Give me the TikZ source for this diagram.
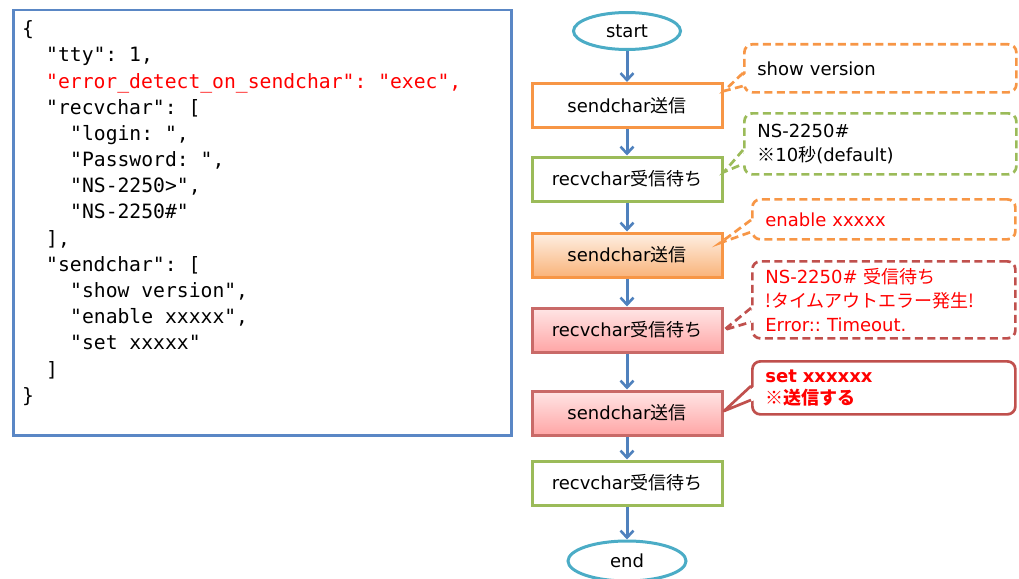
\documentclass[tikz,border=0pt]{standalone}
\usepackage{fontspec}
\setmainfont{DejaVu Sans}
\newfontfamily\jp{Noto Sans CJK JP}
\newfontfamily\codefont{DejaVu Sans Mono}
\usetikzlibrary{shapes.geometric,arrows.meta}
\definecolor{flowblue}{HTML}{4F81BD}
\definecolor{ellblue}{HTML}{4BACC6}
\definecolor{orng}{HTML}{F79646}
\definecolor{grn}{HTML}{9BBB59}
\definecolor{dred}{HTML}{C0504D}
\definecolor{codeblue}{HTML}{5A87C5}
\definecolor{txtred}{HTML}{FF0000}
\tikzset{
  codeline/.style={anchor=base west, inner sep=0pt, font=\codefont\frenchspacing\fontsize{19.7}{24}\selectfont},
  proc/.style={draw, line width=3pt, minimum width=190pt, minimum height=44pt, inner sep=0pt,
    font=\fontsize{18}{20}\selectfont},
  term/.style={ellipse, draw=ellblue, line width=3pt, inner sep=0pt, font=\fontsize{18}{20}\selectfont},
  flow/.style={draw=flowblue, line width=3pt, -{Straight Barb[length=7pt,width=13pt,line width=2.6pt]}},
  note/.style={anchor=north west, fill=white, line width=2.7pt, rounded corners=8pt, align=left,
    inner xsep=13pt, inner ysep=0pt, font=\frenchspacing\fontsize{18}{24}\selectfont},
  dashline/.style={dash pattern=on 8pt off 4.5pt},
}
\begin{document}
\frenchspacing
\begin{tikzpicture}[x=1pt,y=-1pt]
\useasboundingbox (0,0) rectangle (1019,578);
% code box
\node[draw=codeblue, line width=2.5pt, minimum width=498pt, minimum height=425pt, anchor=north west] (code) at (12,9) {};
\node[codeline] (l1) at (22,36) {\{};
\node[codeline] (l2) at (46,62) {"tty": 1,};
\node[codeline, text=txtred] (l3) at (46,88) {"error\_detect\_on\_sendchar": "exec",};
\node[codeline] (l4) at (46,114) {"recvchar": [};
\node[codeline] (l5) at (70,140) {"login: ",};
\node[codeline] (l6) at (70,166) {"Password: ",};
\node[codeline] (l7) at (70,192) {"NS-2250>",};
\node[codeline] (l8) at (70,218) {"NS-2250\#"};
\node[codeline] (l9) at (46,245) {],};
\node[codeline] (l10) at (46,271) {"sendchar": [};
\node[codeline] (l11) at (70,297) {"show version",};
\node[codeline] (l12) at (70,323) {"enable xxxxx",};
\node[codeline] (l13) at (70,349) {"set xxxxx"};
\node[codeline] (l14) at (46,376) {]};
\node[codeline] (l15) at (22,402) {\}};
% flowchart
\node[term, minimum width=107pt, minimum height=37pt] (start) at (627,31) {start};
\node[proc, draw=orng, fill=white] (b1) at (627,105.5) {sendchar{\jp 送信}};
\node[proc, draw=grn, fill=white] (b2) at (627,179) {recvchar{\jp 受信待ち}};
\node[proc, draw=orng, top color=orng!15, bottom color=orng!72] (b3) at (627,255) {sendchar{\jp 送信}};
\node[proc, draw=dred!85, top color=red!10, bottom color=red!35] (b4) at (627,330) {recvchar{\jp 受信待ち}};
\node[proc, draw=dred!85, top color=red!10, bottom color=red!35] (b5) at (627,413) {sendchar{\jp 送信}};
\node[proc, draw=grn, fill=white] (b6) at (627,483) {recvchar{\jp 受信待ち}};
\node[term, minimum width=118pt, minimum height=40pt] (end) at (627,561) {end};
\draw[flow] (start) -- (b1);
\draw[flow] (b1) -- (b2);
\draw[flow] (b2) -- (b3);
\draw[flow] (b3) -- (b4);
\draw[flow] (b4) -- (b5);
\draw[flow] (b5) -- (b6);
\draw[flow] (b6) -- (end);
% callouts
\node[note, draw=orng, dashline, minimum width=272pt, minimum height=48pt, text width=246pt] (c1) at (743,43) {show version};
\coordinate (t1) at (724,91); \coordinate (a1) at (743,73); \coordinate (e1) at (743,86);
\fill[white] (t1) -- ([xshift=4pt]a1) -- ([xshift=4pt]e1) -- cycle;
\draw[orng, line width=2.7pt, dashline] (a1) -- (t1) -- (e1);

\node[note, draw=grn, dashline, minimum width=272pt, minimum height=61pt, text width=246pt] (c2) at (743,112) {NS-2250\#\\{\jp ※}10{\jp 秒}(default)};
\coordinate (t2) at (724,172); \coordinate (a2) at (743,150); \coordinate (e2) at (743,164);
\fill[white] (t2) -- ([xshift=4pt]a2) -- ([xshift=4pt]e2) -- cycle;
\draw[grn, line width=2.7pt, dashline] (a2) -- (t2) -- (e2);

\node[note, draw=orng, dashline, minimum width=263pt, minimum height=40pt, text width=237pt, text=txtred] (c3) at (751,198) {enable xxxxx};
\coordinate (t3) at (720,243); \coordinate (a3) at (751,220); \coordinate (e3) at (751,232);
\fill[white] (t3) -- ([xshift=4pt]a3) -- ([xshift=4pt]e3) -- cycle;
\draw[orng, line width=2.7pt, dashline] (a3) -- (t3) -- (e3);

\node[note, draw=dred, dashline, minimum width=263pt, minimum height=77pt, text width=237pt, text=txtred] (c4) at (751,260) {NS-2250\# {\jp 受信待ち}\\{\jp !タイムアウトエラー発生!}\\Error:: Timeout.};
\coordinate (t4) at (724,330); \coordinate (a4) at (751,308); \coordinate (e4) at (751,322);
\fill[white] (t4) -- ([xshift=4pt]a4) -- ([xshift=4pt]e4) -- cycle;
\draw[dred, line width=2.7pt, dashline] (a4) -- (t4) -- (e4);

\node[note, draw=dred, minimum width=263pt, minimum height=53pt, text width=237pt, text=txtred, font=\bfseries\fontsize{18}{22}\selectfont] (c5) at (751,360) {set xxxxxx\\{\jp\bfseries ※送信する}};
\coordinate (t5) at (724,411); \coordinate (a5) at (751,386); \coordinate (e5) at (751,400);
\fill[white] (t5) -- ([xshift=4pt]a5) -- ([xshift=4pt]e5) -- cycle;
\draw[dred, line width=2.7pt, line join=round] (a5) -- (t5) -- (e5);
\end{tikzpicture}
\end{document}
